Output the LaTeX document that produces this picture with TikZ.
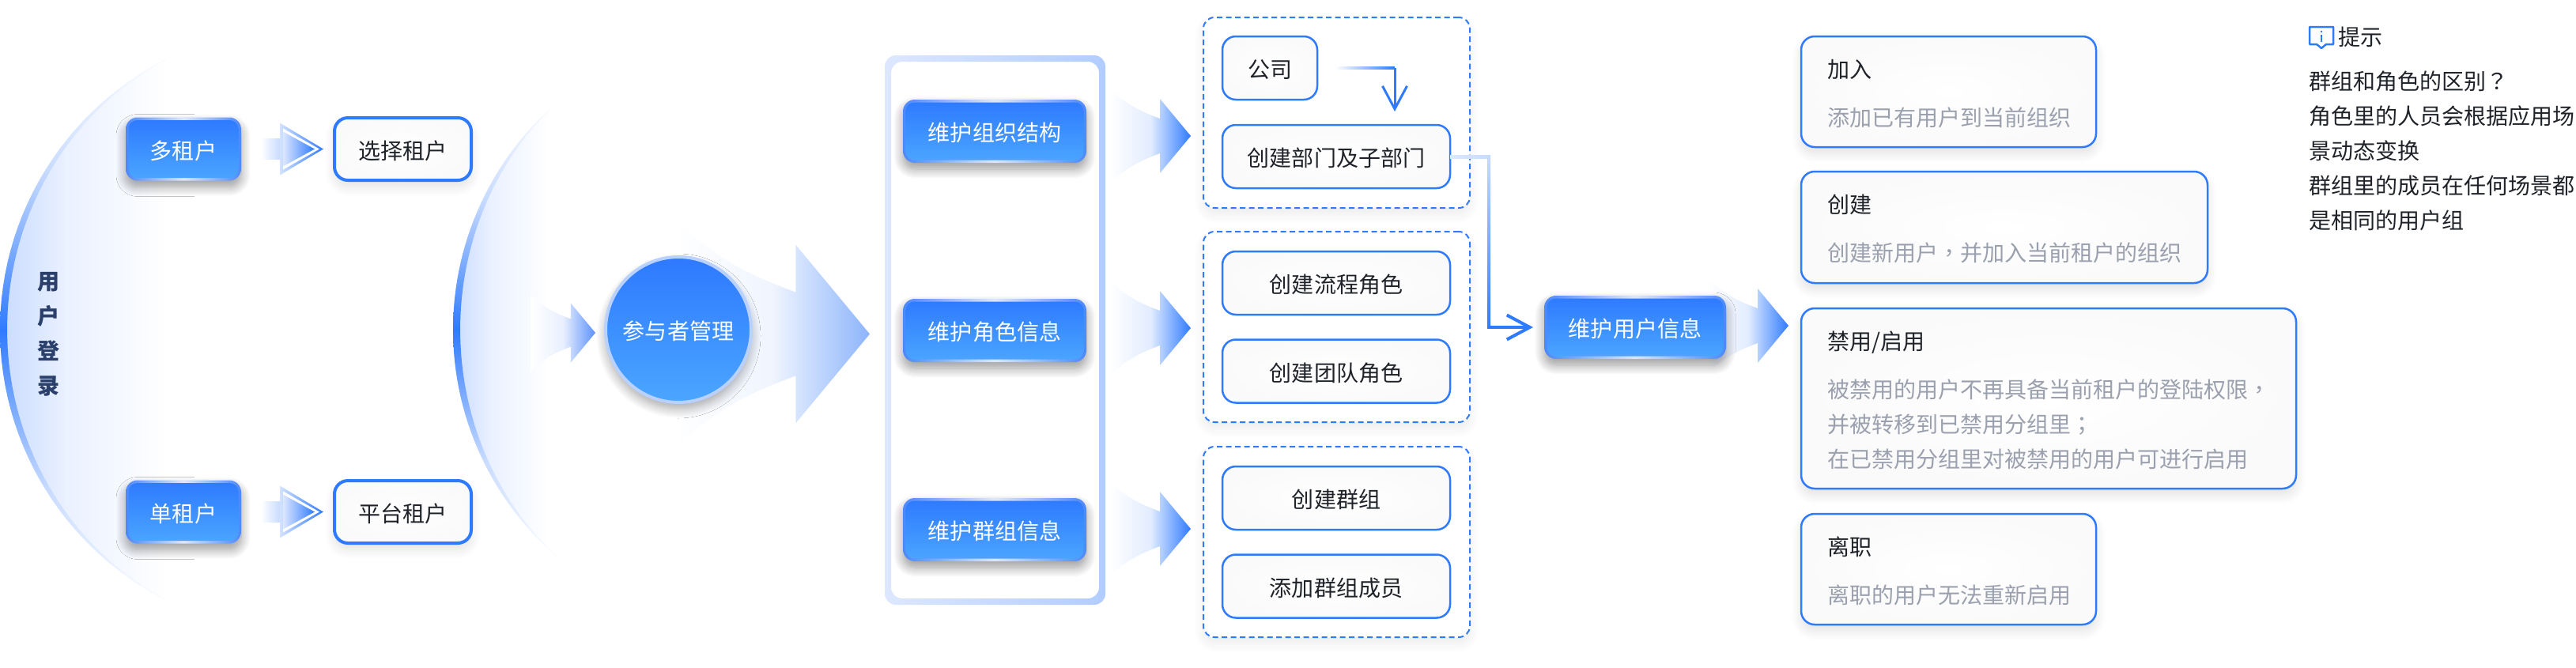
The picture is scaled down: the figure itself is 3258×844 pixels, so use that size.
\documentclass[tikz,border=0pt]{standalone}
\usepackage{fontspec}
\setmainfont{Noto Sans CJK SC}
\newfontfamily\punct{Noto Sans CJK TC}
\usetikzlibrary{arrows.meta,backgrounds,shadows.blur}

\definecolor{lineblue}{HTML}{2F7BFF}
\definecolor{edgeblue}{HTML}{4C88FB}
\definecolor{edgepale}{HTML}{DDE7FF}
\definecolor{fillblue}{HTML}{2E79FF}
\definecolor{fillsky}{HTML}{4BA6FF}
\definecolor{paleblue}{HTML}{C8DBFF}
\definecolor{ink}{HTML}{1F2329}
\definecolor{cardgray}{HTML}{9AA0AD}
\definecolor{navy}{HTML}{2B3F6B}
\definecolor{softgray}{HTML}{FAFAFB}
\definecolor{midarrow}{HTML}{5C91FA}
\definecolor{bigarrow}{HTML}{8DB4FB}
\definecolor{discmid}{HTML}{EAF1FF}

\pgfdeclareverticalshading{rimfade}{100bp}{color(0bp)=(white); color(25bp)=(white); color(36bp)=(paleblue); color(50bp)=(lineblue); color(64bp)=(paleblue); color(75bp)=(white); color(100bp)=(white)}
\pgfdeclarehorizontalshading{discfade}{100bp}{color(0bp)=(paleblue); color(25bp)=(paleblue); color(42bp)=(discmid); color(68bp)=(white); color(100bp)=(white)}

\newcommand{\cardhead}[1]{\rule{0pt}{2.8mm}\textcolor{ink}{#1}\\[1.7mm]}

\tikzset{
    softshadow/.style={blur shadow={shadow xshift=0mm, shadow yshift=-.8mm, shadow blur radius=1.2mm, shadow blur steps=12, shadow opacity=#1}},
    boxtext/.style={text height=3mm, text depth=.48mm},
    bluebox/.style={boxtext, rounded corners=1.5mm, left color=edgeblue, right color=edgeblue, middle color=edgepale, text=white, minimum height=8mm, softshadow=40,
        path picture={\shade[rounded corners=1.1mm, top color=fillblue, bottom color=fillsky]
            ([shift={(.35mm,.35mm)}]path picture bounding box.south west) rectangle ([shift={(-.35mm,-.35mm)}]path picture bounding box.north east);}},
    plainbox/.style={boxtext, draw=lineblue, line width=.25mm, rounded corners=1.7mm, inner color=white, outer color=softgray, text=ink, minimum height=8mm, minimum width=28.8mm},
    tenantbox/.style={plainbox, line width=.4mm, minimum height=7.9mm, minimum width=17.3mm, softshadow=12},
    groupbox/.style={draw=lineblue, line width=.2mm, dash pattern=on .7mm off .45mm, rounded corners=1.4mm, fill=white, minimum width=33.7mm, minimum height=24.1mm, softshadow=8},
    cardbox/.style={draw=lineblue, line width=.25mm, rounded corners=1.7mm, inner color=white, outer color=softgray, anchor=north west, align=left, text=cardgray, inner xsep=3.3mm, text width=#1, softshadow=12},
    every node/.style={font=\fontsize{7.97}{12.52}\selectfont, inner sep=0pt, outer sep=0pt}
}

% gradient arrow, tip at the named coordinate
\newcommand{\gradarrow}[3]{
    \shade[shift={(#1)}, scale=#2, left color=white, right color=#3, middle color=#3!14]
        (-102,-60) .. controls (-80,-38) and (-60,-30) .. (-39,-22) -- (-39,-47) -- (0,0) -- (-39,47) -- (-39,22)
        .. controls (-60,30) and (-80,38) .. (-102,60) -- cycle;
}
\newcommand{\smallarrow}[1]{
    \begin{scope}[shift={(#1)}]
        \shade[left color=white, right color=paleblue] (-79,-13) -- (-55,-13) -- (-55,13) -- (-79,13) -- cycle;
        \shade[left color=paleblue!80, right color=lineblue] (-55,-33) -- (0,0) -- (-55,33) -- cycle;
        \fill[white] (-51,-26) -- (-5,0) -- (-51,26) -- cycle;
        \shade[left color=edgepale, right color=lineblue] (-51,-22) -- (-11,0) -- (-51,22) -- cycle;
    \end{scope}
}
% half disc with a crescent rim
\newcommand{\rimdisc}[3]{
    \shade[shading=discfade] plot[domain=-#3:#3, samples=60] ({#1+#2-#2*cos(\x)}, {417+#2*sin(\x)}) -- cycle;
    \shade[shading=rimfade]
        plot[domain=-#3:#3, samples=60] ({#1+#2-#2*cos(\x)}, {417+#2*sin(\x)})
        -- plot[domain=-#3:#3, samples=60] ({#1+#2-#2*cos(\x)+9*cos(\x*90/#3)}, {417-#2*sin(\x)}) -- cycle;
}

\begin{document}
\begin{tikzpicture}[x=.1mm, y=-.1mm]
    \useasboundingbox (0,0) rectangle (3258,844);

    \node[font=\fontsize{7.97}{12.52}\selectfont\bfseries, text=navy, align=center] (login) at (62,423) {用\\户\\登\\录};

    \node[bluebox, minimum width=14.6mm] (multi) at (232,188.5) {多租户};
    \node[tenantbox] (choose) at (509.5,188.5) {选择租户};
    \node[bluebox, minimum width=14.6mm] (single) at (232,647.5) {单租户};
    \node[tenantbox] (platform) at (509.5,647.5) {平台租户};

    \node[boxtext, circle, draw=paleblue!90!lineblue, line width=.4mm, top color=fillblue, bottom color=fillsky, text=white, minimum size=18.4mm, softshadow=35] (actor) at (858,417) {参与者管理};

    \node[minimum width=27.9mm, minimum height=69.5mm] (panel) at (1258.5,417.5) {};
    \node[bluebox, minimum width=23.2mm] (org) at (1258,166) {维护组织结构};
    \node[bluebox, minimum width=23.2mm] (role) at (1258,418) {维护角色信息};
    \node[bluebox, minimum width=23.2mm] (team) at (1258,670) {维护群组信息};

    \node[groupbox] (groupa) at (1690.5,142.5) {};
    \node[groupbox] (groupb) at (1690.5,413.5) {};
    \node[groupbox] (groupc) at (1690.5,685.5) {};

    \node[plainbox, minimum width=12mm] (company) at (1606,86) {公司};
    \node[plainbox] (dept) at (1690,198) {创建部门及子部门};
    \node[plainbox] (flow) at (1690,358) {创建流程角色};
    \node[plainbox] (squad) at (1690,469.5) {创建团队角色};
    \node[plainbox] (newteam) at (1690,630) {创建群组};
    \node[plainbox] (member) at (1690,741.5) {添加群组成员};

    \node[bluebox, minimum width=23mm] (user) at (2068,414) {维护用户信息};

    \node[cardbox=30.7mm, minimum height=14mm] (join) at (2278,46) {\cardhead{加入}添加已有用户到当前组织};
    \node[cardbox=44.8mm, minimum height=14.1mm] (create) at (2278,217) {\cardhead{创建}创建新用户{\punct ，}并加入当前租户的组织};
    \node[cardbox=56mm, minimum height=22.8mm] (toggle) at (2278,390) {\cardhead{禁用/启用}被禁用的用户不再具备当前租户的登陆权限{\punct ，}\\并被转移到已禁用分组里{\punct ；}\\在已禁用分组里对被禁用的用户可进行启用};
    \node[cardbox=30.7mm, minimum height=14mm] (leave) at (2278,650) {\cardhead{离职}离职的用户无法重新启用};

    \node[anchor=west, text=ink] (tiphead) at (2957,47) {提示};
    \node[anchor=west, align=left, text=ink] (tiptext) at (2920,190.5) {群组和角色的区别{\punct ？}\\角色里的人员会根据应用场\\景动态变换\\群组里的成员在任何场景都\\是相同的用户组};

    % info icon
    \draw[lineblue, line width=.25mm, line join=round] (2921,34) -- (2951,34) -- (2951,56) -- (2942,56) -- (2936,61) -- (2930,56) -- (2921,56) -- cycle;
    \draw[lineblue, line width=.25mm] (2936,39) -- (2936,41) (2936,44) -- (2936,53);

    \begin{scope}[on background layer]
        \rimdisc{0}{384}{69}
        \rimdisc{573}{380}{51}

        \shade[even odd rule, rounded corners=1.4mm, left color=edgepale, right color=paleblue!85!lineblue]
            (panel.south west) rectangle (panel.north east)
            ([shift={(.8mm,.8mm)}]panel.south west) rectangle ([shift={(-.8mm,-.8mm)}]panel.north east);

        \smallarrow{$(choose.west)+(-14,0)$}
        \smallarrow{$(platform.west)+(-14,0)$}
        \gradarrow{$(actor.west)+(-13,4)$}{.8}{midarrow}
        \gradarrow{$(panel.west)+(-19,5)$}{2.4}{bigarrow}
        \gradarrow{$(org.east)+(132,6)$}{1}{lineblue}
        \gradarrow{$(role.east)+(132,-3)$}{1}{lineblue}
        \gradarrow{$(team.east)+(132,-1)$}{1}{lineblue}
        \gradarrow{$(user.east)+(79,-2)$}{1}{lineblue}
    \end{scope}

    \coordinate (start) at ($(company.east)+(23,0)$);
    \coordinate (stop) at ($(dept.north)+(74,-17)$);
    \shade[left color=white, right color=lineblue] ($(start)+(0,-1.5)$) rectangle ($(stop|-start)+(0,1.5)$);
    \draw[-{Straight Barb[length=2.9mm, width=3.1mm]}, lineblue, line width=.3mm] (stop|-start) -- (stop);

    \coordinate (bend) at ($(dept.east)+(49,0)$);
    \coordinate (foot) at (bend|-user.west);
    \shade[left color=edgepale, right color=paleblue] ($(dept.east)+(0,-2)$) rectangle ($(bend)+(0,2)$);
    \shade[top color=paleblue, bottom color=lineblue] ($(bend)+(-2,-2)$) rectangle ($(foot)+(2,0)$);
    \draw[-{Straight Barb[length=2.9mm, width=3.1mm]}, lineblue, line width=.4mm] ($(foot)+(-2,0)$) -- ($(user.west)+(-14,0)$);
\end{tikzpicture}
\end{document}
